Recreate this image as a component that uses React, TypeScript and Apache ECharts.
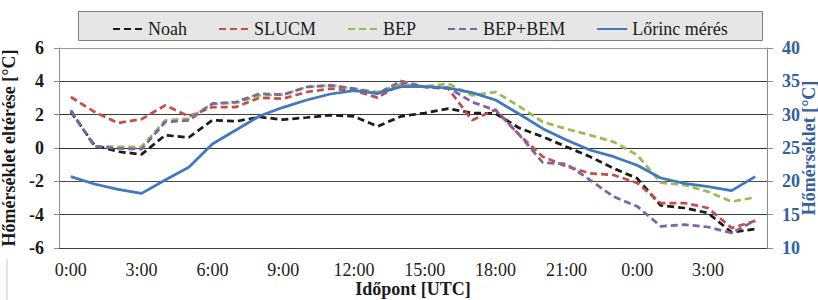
import React, { useEffect, useRef } from "react";
import * as echarts from "echarts";

const categories = [
  "0:00", "1:00", "2:00", "3:00", "4:00", "5:00", "6:00", "7:00", "8:00", "9:00",
  "10:00", "11:00", "12:00", "13:00", "14:00", "15:00", "16:00", "17:00", "18:00", "19:00",
  "20:00", "21:00", "22:00", "23:00", "0:00", "1:00", "2:00", "3:00", "4:00", "5:00",
];

const noah = [2.17, 0.17, -0.22, -0.38, 0.77, 0.63, 1.67, 1.6, 1.86, 1.7, 1.83, 1.97, 1.9, 1.3, 1.9, 2.1, 2.36, 2.1, 2.07, 1.2, 0.67, 0.07, -0.52, -1.22, -1.82, -3.45, -3.6, -3.9, -5.06, -4.86];
const slucm = [3.06, 2.17, 1.5, 1.73, 2.56, 1.9, 2.46, 2.46, 3.02, 2.96, 3.36, 3.56, 3.46, 3.02, 3.86, 3.66, 3.56, 1.67, 2.3, 0.8, -0.52, -1.1, -1.52, -1.62, -2.1, -3.3, -3.3, -3.6, -4.8, -4.37];
const bep = [2.26, 0.1, 0.07, 0.07, 1.66, 1.77, 2.66, 2.7, 3.16, 3.2, 3.66, 3.76, 3.56, 3.36, 3.82, 3.7, 3.86, 3.16, 3.36, 2.5, 1.56, 1.15, 0.77, 0.37, -0.42, -2.08, -2.22, -2.62, -3.22, -2.96];
const bepBem = [2.26, 0.1, -0.03, -0.07, 1.56, 1.66, 2.66, 2.76, 3.26, 3.2, 3.66, 3.76, 3.56, 3.26, 4.02, 3.66, 3.62, 2.76, 2.26, 0.8, -0.88, -0.96, -1.92, -2.92, -3.5, -4.7, -4.6, -4.74, -5.1, -4.35];
const lorinc = [20.7, 19.6, 18.8, 18.2, 20.2, 22.1, 25.6, 27.7, 29.8, 31.1, 32.2, 33.1, 33.6, 33.2, 34.2, 34.2, 34.0, 33.3, 32.2, 30.1, 27.9, 26.2, 24.7, 23.7, 22.4, 20.5, 19.7, 19.2, 18.6, 20.7];

const seriesNames = ["Noah", "SLUCM", "BEP", "BEP+BEM", "Lőrinc mérés"];

const FONT = "Liberation Serif";

export default function App() {
  const ref = useRef<HTMLDivElement>(null);

  useEffect(() => {
    document.body.style.margin = "0";
    if (!ref.current) return;
    const chart = echarts.init(ref.current, null, { renderer: "svg" });

    const mk = (name: string, data: number[], color: string, dash: boolean, yAxisIndex = 0) => ({
      name,
      type: "line",
      data,
      yAxisIndex,
      symbol: "none",
      showSymbol: false,
      color,
      itemStyle: { color },
      lineStyle: { color, width: 2.75, type: dash ? [7, 4] : "solid" },
      z: dash ? 2 : 3,
    });

    chart.setOption({
      animation: false,
      textStyle: { fontFamily: FONT },
      graphic: [
        {
          type: "rect",
          shape: { x: 78.5, y: 11.5, width: 684, height: 29 },
          style: { fill: "#e6e6e6", stroke: "#7f7f7f", lineWidth: 1 },
          z: 0,
        },
        {
          type: "line",
          shape: { x1: 7, y1: 259, x2: 7, y2: 300 },
          style: { stroke: "#c8c8c8", lineWidth: 1 },
        },
      ],
      legend: {
        data: seriesNames,
        left: 112,
        top: 20,
        padding: 0,
        itemWidth: 30,
        itemHeight: 14,
        itemGap: 31,
        itemStyle: { opacity: 0 },
        textStyle: { fontFamily: FONT, fontSize: 18, color: "#1a1a1a" },
        z: 5,
      },
      grid: {
        left: 59,
        top: 48,
        width: 708,
        height: 200,
        containLabel: false,
        outerBoundsMode: "none",
      },
      xAxis: {
        type: "category",
        data: categories,
        boundaryGap: true,
        axisLine: { show: true, lineStyle: { color: "#333", width: 1 } },
        axisTick: { show: false },
        axisLabel: {
          interval: 2,
          fontFamily: FONT,
          fontSize: 18,
          color: "#222",
          margin: 13,
        },
        name: "Időpont [UTC]",
        nameLocation: "middle",
        nameMoveOverlap: false,
        nameGap: 32,
        nameTextStyle: { fontFamily: FONT, fontSize: 18, fontWeight: "bold", color: "#1a1a1a" },
      },
      yAxis: [
        {
          type: "value",
          min: -6,
          max: 6,
          interval: 2,
          position: "left",
          axisLine: { show: true, lineStyle: { color: "#8c8c8c", width: 1 } },
          axisTick: { show: true, length: 5, inside: false, lineStyle: { color: "#8c8c8c" } },
          axisLabel: {
            fontFamily: FONT,
            fontSize: 18,
            fontWeight: "bold",
            color: "#1a1a1a",
            margin: 15,
          },
          splitLine: {
            show: true,
            lineStyle: {
              color: ["#3c3c3c", "#3c3c3c", "#4a4a4a", "#9a9a9a", "#3c3c3c", "#3c3c3c", "#9a9a9a"],
              width: 1,
            },
          },
          name: "Hőmérséklet eltérése [°C]",
          nameLocation: "middle",
          nameRotate: 90,
          nameGap: 31,
          nameTextStyle: { fontFamily: FONT, fontSize: 18, fontWeight: "bold", color: "#1a1a1a" },
        },
        {
          type: "value",
          min: 10,
          max: 40,
          interval: 5,
          position: "right",
          axisLine: { show: true, lineStyle: { color: "#8c8c8c", width: 1 } },
          axisTick: { show: true, length: 6, inside: false, lineStyle: { color: "#8c8c8c" } },
          axisLabel: {
            fontFamily: FONT,
            fontSize: 18,
            fontWeight: "bold",
            color: "#34609a",
            margin: 15,
          },
          splitLine: { show: false },
          name: "Hőmérséklet [°C]",
          nameLocation: "middle",
          nameRotate: 90,
          nameMoveOverlap: false,
          nameGap: 33,
          nameTextStyle: { fontFamily: FONT, fontSize: 18, fontWeight: "bold", color: "#34609a" },
        },
      ],
      series: [
        mk(seriesNames[0], noah, "#1c1c1c", true),
        mk(seriesNames[1], slucm, "#c0504d", true),
        mk(seriesNames[2], bep, "#9bbb59", true),
        mk(seriesNames[3], bepBem, "#8064a2", true),
        mk(seriesNames[4], lorinc, "#4178be", false, 1),
      ],
    });

    return () => chart.dispose();
  }, []);

  return <div ref={ref} style={{ width: 818, height: 300 }} />;
}
